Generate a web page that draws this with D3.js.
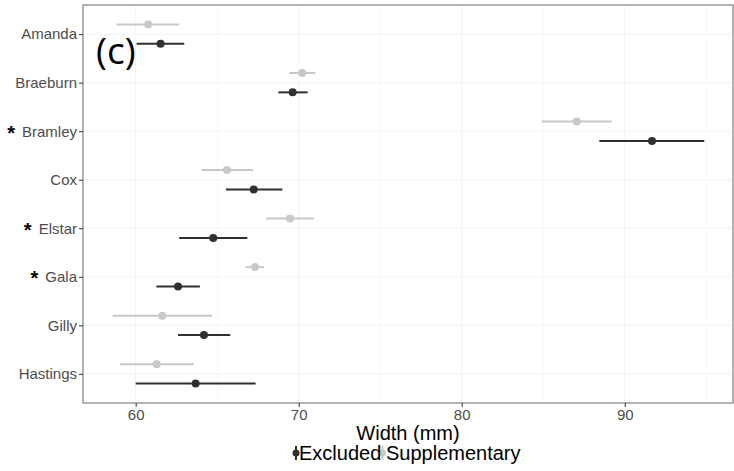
<!DOCTYPE html>
<html>
<head>
<meta charset="utf-8">
<script src="https://cdn.jsdelivr.net/npm/d3@7"></script>
<style>
  html, body { margin: 0; padding: 0; background: #fff; }
  svg { display: block; }
  text { font-family: "Liberation Sans", Arial, sans-serif; }
</style>
</head>
<body>
<svg id="chart" width="734" height="471"></svg>
<script>
const categories = ["Amanda", "Braeburn", "Bramley", "Cox", "Elstar", "Gala", "Gilly", "Hastings"];
const starred = [false, false, true, false, true, true, false, false];
const suppMean = [60.77, 70.22, 87.05, 65.6, 69.47, 67.32, 61.63, 61.29];
const suppLow  = [58.83, 69.42, 84.91, 64.05, 68.0, 66.75, 58.59, 59.04];
const suppHigh = [62.67, 71.02, 89.2, 67.2, 70.92, 67.89, 64.7, 63.56];
const exclMean = [61.53, 69.63, 91.67, 67.24, 64.76, 62.6, 64.19, 63.68];
const exclLow  = [60.06, 68.75, 88.44, 65.54, 62.67, 61.27, 62.6, 60.0];
const exclHigh = [62.98, 70.55, 94.88, 69.0, 66.85, 63.94, 65.8, 67.36];
const xTicks = [60, 70, 80, 90];
const xMinor = [65, 75, 85, 95];
const seriesNames = ["Excluded", "Supplementary"];
const seriesColors = ["#303030", "#c8c8c8"];

const svg = d3.select("#chart");
const L = 83, R = 733, T = 5, B = 403;

const x = d3.scaleLinear().domain([56.77, 96.64]).range([L, R]);
const y = d3.scalePoint().domain(categories).range([T, B]).padding(0.6);
const dodge = y.step() * 0.2;

const g = svg.append("g");

// gridlines
g.selectAll(".minor").data(xMinor).enter().append("line")
  .attr("x1", d => x(d)).attr("x2", d => x(d)).attr("y1", T).attr("y2", B)
  .attr("stroke", "#f8f8f8").attr("stroke-width", 1);
g.selectAll(".major").data(xTicks).enter().append("line")
  .attr("x1", d => x(d)).attr("x2", d => x(d)).attr("y1", T).attr("y2", B)
  .attr("stroke", "#f2f2f2").attr("stroke-width", 1);
g.selectAll(".hgrid").data(categories).enter().append("line")
  .attr("x1", L).attr("x2", R).attr("y1", d => y(d)).attr("y2", d => y(d))
  .attr("stroke", "#f2f2f2").attr("stroke-width", 1);

// series
const series = [
  { name: "Supplementary", mean: suppMean, lo: suppLow, hi: suppHigh, off: -dodge, color: seriesColors[1] },
  { name: "Excluded", mean: exclMean, lo: exclLow, hi: exclHigh, off: dodge, color: seriesColors[0] }
];
series.forEach(s => {
  const data = categories.map((c, i) => ({ c, m: s.mean[i], lo: s.lo[i], hi: s.hi[i] }));
  g.selectAll(null).data(data).enter().append("line")
    .attr("x1", d => x(d.lo)).attr("x2", d => x(d.hi))
    .attr("y1", d => y(d.c) + s.off).attr("y2", d => y(d.c) + s.off)
    .attr("stroke", s.color).attr("stroke-width", 2);
  g.selectAll(null).data(data).enter().append("circle")
    .attr("cx", d => x(d.m)).attr("cy", d => y(d.c) + s.off).attr("r", 4)
    .attr("fill", s.color);
});

// panel border
svg.append("rect").attr("x", L).attr("y", T).attr("width", R - L).attr("height", B - T)
  .attr("fill", "none").attr("stroke", "#808080").attr("stroke-width", 1.2);

// x axis
const xAxis = svg.append("g").attr("transform", `translate(0,${B})`)
  .call(d3.axisBottom(x).tickValues(xTicks).tickSize(4).tickPadding(2).tickFormat(d3.format("d")));
xAxis.select(".domain").remove();
xAxis.selectAll("line").attr("stroke", "#333");
xAxis.selectAll("text").attr("fill", "#4d4d4d").style("font-size", "15px")
  .style("font-family", "'Liberation Sans', Arial, sans-serif");

// y axis
const yAxis = svg.append("g").attr("transform", `translate(${L},0)`)
  .call(d3.axisLeft(y).tickSize(4).tickPadding(2));
yAxis.select(".domain").remove();
yAxis.selectAll("line").attr("stroke", "#333");
yAxis.selectAll("text").attr("fill", "#4d4d4d").style("font-size", "15px")
  .style("font-family", "'Liberation Sans', Arial, sans-serif");

// asterisks
yAxis.selectAll(".tick").each(function(d) {
  if (!starred[categories.indexOf(d)]) return;
  const t = d3.select(this).select("text");
  const w = t.node().getComputedTextLength();
  d3.select(this).append("text")
    .attr("x", -6 - w - 7).attr("y", 8)
    .attr("text-anchor", "end")
    .attr("fill", "#000").style("font-size", "20px").style("font-weight", "bold")
    .text("*");
});

// axis title
svg.append("text").attr("x", (L + R) / 2).attr("y", 440)
  .attr("text-anchor", "middle").attr("fill", "#000").style("font-size", "20px")
  .text("Width (mm)");

// panel label
svg.append("text").attr("x", 96).attr("y", 64)
  .attr("fill", "#000").style("font-size", "37px")
  .style("font-family", "'Open Sans', 'Liberation Sans', sans-serif")
  .text("(c)");

// legend
const legY = 453;
const legItems = [
  { name: seriesNames[0], color: seriesColors[0], kx: 296, tx: 299 },
  { name: seriesNames[1], color: seriesColors[1], kx: 382.5, tx: 386 }
];
legItems.forEach(it => {
  svg.append("line").attr("x1", it.kx).attr("x2", it.kx).attr("y1", legY - 7).attr("y2", legY + 7)
    .attr("stroke", it.color).attr("stroke-width", 2);
  svg.append("circle").attr("cx", it.kx).attr("cy", legY).attr("r", 3.5).attr("fill", it.color);
});
legItems.forEach(it => {
  svg.append("text").attr("x", it.tx).attr("y", 460).attr("fill", "#000").style("font-size", "20px")
    .text(it.name);
});
</script>
</body>
</html>
